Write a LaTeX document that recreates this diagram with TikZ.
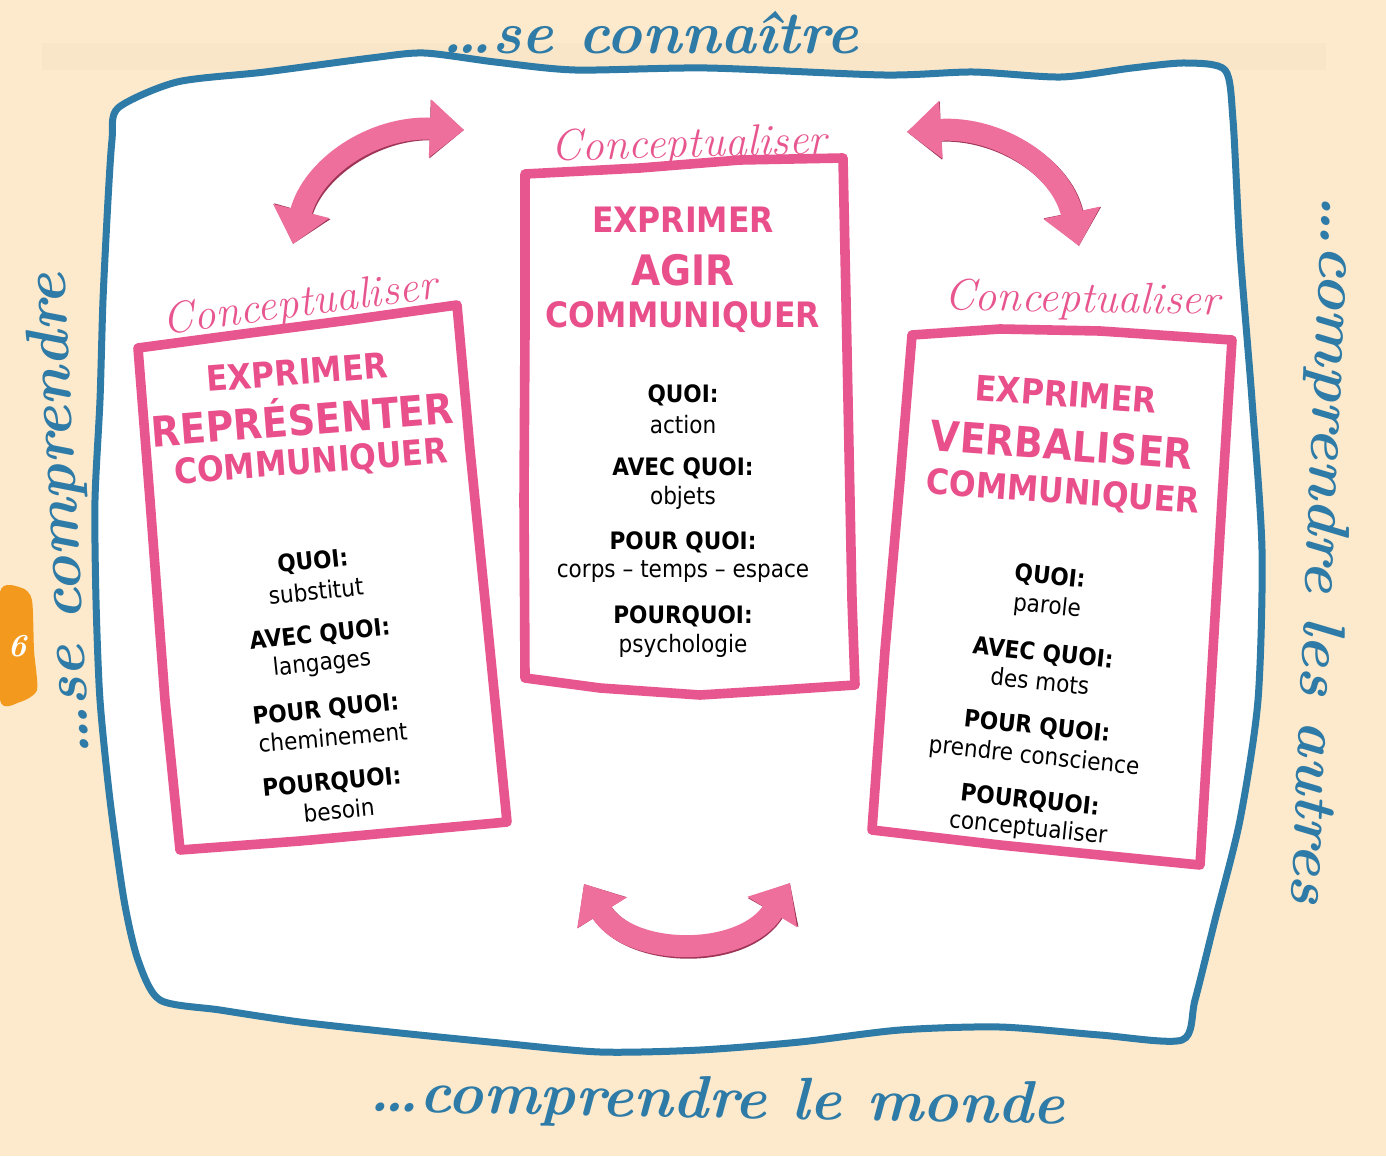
\documentclass[tikz,border=0pt]{standalone}
\usepackage{fontspec}
\usetikzlibrary{arrows.meta}
\newfontfamily\sans{DejaVu Sans}[FakeStretch=0.9]
\definecolor{bg}{HTML}{FDEACC}
\definecolor{band}{HTML}{F9E6C9}
\definecolor{blueline}{HTML}{2F7BA7}
\definecolor{pinkframe}{HTML}{E8568F}
\definecolor{headpink}{HTML}{E9508B}
\definecolor{arrowpink}{HTML}{EE6F9C}
\definecolor{arrowdark}{HTML}{9E3556}
\definecolor{tabcol}{HTML}{F39A1E}
\tikzset{
 boxframe/.style={draw=pinkframe, line width=4.8pt, line join=round, fill=white},
 hdr/.style={text=headpink, font=\sans\bfseries\fontsize{17.5}{20}\selectfont, inner sep=0pt},
 bighdr/.style={text=headpink, font=\sans\bfseries\fontsize{21}{24}\selectfont, inner sep=0pt},
 lab/.style={font=\sans\bfseries\fontsize{12}{14}\selectfont, inner sep=0pt},
 val/.style={font=\sans\fontsize{12}{14}\selectfont, inner sep=0pt},
 concept/.style={text=pinkframe, font=\itshape\fontsize{22}{26}\selectfont, inner sep=0pt},
 outer/.style={text=blueline, font=\bfseries\itshape\fontsize{30}{34}\selectfont, inner sep=0pt},
 curvarrow/.style={arrowpink, line width=11pt, {Triangle[width=28pt,length=17pt]}-{Triangle[width=28pt,length=17pt]}},
 curvshadow/.style={arrowdark, line width=11pt, {Triangle[width=28pt,length=17pt]}-{Triangle[width=28pt,length=17pt]}, xshift=1pt, yshift=-1pt},
}
\begin{document}
\begin{tikzpicture}[x=0.5pt,y=-0.5pt]
\useasboundingbox (0,0) rectangle (1386,1156);
\fill[bg] (0,0) rectangle (1386,1156);
\fill[band] (42,43) rectangle (1326,70);
% orange tab
\fill[tabcol] plot[smooth cycle, tension=0.4] coordinates {(0,592) (22,588) (32,600) (34,650) (37,690) (20,702) (0,700)};
\node[text=white, font=\bfseries\itshape\fontsize{16}{18}\selectfont, inner sep=0pt] (pagenum) at (17,646) {6};
% paper with blue border
\draw[blueline, line width=3.5pt, fill=white, line join=round]
 plot[smooth cycle, tension=0.45] coordinates {
 (118,108) (177,82) (265,72) (371,58) (424,53) (495,62) (575,70) (707,68) (884,75) (973,72) (1061,77) (1132,68) (1185,63) (1225,70)
 (1233,120) (1240,250) (1252,400) (1262,550) (1258,700) (1240,820) (1215,920) (1195,1000) (1182,1040)
 (1100,1035) (1000,1027) (900,1030) (800,1042) (700,1050) (600,1052) (500,1043) (400,1033) (300,1022) (220,1010) (160,1000)
 (138,960) (124,900) (110,800) (100,700) (96,600) (95,500) (100,400) (103,300) (108,200) (112,140)};
% outer handwritten texts
\node[outer] (top) at (650,33) {…se connaître};
\node[outer, rotate=-92.5] (right) at (1322,550) {…comprendre les autres};
\node[outer, rotate=-1] (bottom) at (717,1103) {…comprendre le monde};
\node[outer, rotate=93] (left) at (62,515) {…se comprendre};
% frames
\draw[boxframe] (525,174) -- (640,168) -- (740,160) -- (843,158) -- (846,300) -- (849,450) -- (852,600) -- (855,685)
 -- (780,690) -- (700,695) -- (600,688) -- (525,678) -- (524,500) -- (525,330) -- cycle;
\draw[boxframe] (138,348) -- (250,333) -- (350,320) -- (457,305) -- (470,450) -- (490,650) -- (507,822)
 -- (420,830) -- (300,841) -- (180,850) -- (165,700) -- (150,500) -- cycle;
\draw[boxframe] (912,335) -- (1000,329) -- (1100,331) -- (1232,340) -- (1222,500) -- (1210,700) -- (1200,865)
 -- (1100,855) -- (1000,845) -- (872,830) -- (885,650) -- (900,480) -- cycle;
% Conceptualiser labels
\node[concept, rotate=1.5] (conC) at (689,146) {Conceptualiser};
\node[concept, rotate=7.5] (conL) at (300,305) {Conceptualiser};
\node[concept, rotate=-1] (conR) at (1082,301) {Conceptualiser};
% centre box
\node[hdr] (c1) at (683,220) {EXPRIMER};
\node[bighdr] (c2) at (683,270) {AGIR};
\node[hdr] (c3) at (683,317) {COMMUNIQUER};
\node[lab] (c4) at (683,395) {QUOI:};
\node[val] (c5) at (683,425) {action};
\node[lab] (c6) at (683,468) {AVEC QUOI:};
\node[val] (c7) at (683,498) {objets};
\node[lab] (c8) at (683,542) {POUR QUOI:};
\node[val] (c9) at (683,572) {corps – temps – espace};
\node[lab] (c10) at (683,616) {POURQUOI:};
\node[val] (c11) at (683,646) {psychologie};
% left box
\node[hdr, rotate=4.5] (l1) at (297,372) {EXPRIMER};
\node[bighdr, rotate=4.5] (l2) at (302,416) {REPRÉSENTER};
\node[hdr, rotate=4.5] (l3) at (311,463) {COMMUNIQUER};
\node[lab, rotate=6] (l4) at (313,562) {QUOI:};
\node[val, rotate=6] (l5) at (316,591) {substitut};
\node[lab, rotate=6] (l6) at (320,635) {AVEC QUOI:};
\node[val, rotate=6] (l7) at (322,664) {langages};
\node[lab, rotate=6] (l8) at (326,710) {POUR QUOI:};
\node[val, rotate=5] (l9) at (333,737) {cheminement};
\node[lab, rotate=5.5] (l10) at (332,783) {POURQUOI:};
\node[val, rotate=5.5] (l11) at (339,810) {besoin};
% right box
\node[hdr, rotate=-4.2] (r1) at (1066,394) {EXPRIMER};
\node[bighdr, rotate=-4.2] (r2) at (1062,445) {VERBALISER};
\node[hdr, rotate=-4.2] (r3) at (1063,493) {COMMUNIQUER};
\node[lab, rotate=-6] (r4) at (1050,577) {QUOI:};
\node[val, rotate=-6] (r5) at (1047,607) {parole};
\node[lab, rotate=-6] (r6) at (1043,654) {AVEC QUOI:};
\node[val, rotate=-6] (r7) at (1040,681) {des mots};
\node[lab, rotate=-6] (r8) at (1037,727) {POUR QUOI:};
\node[val, rotate=-6] (r9) at (1034,757) {prendre conscience};
\node[lab, rotate=-6] (r10) at (1030,801) {POURQUOI:};
\node[val, rotate=-6] (r11) at (1028,829) {conceptualiser};
% arrows
\coordinate (a1s) at (293,244);
\coordinate (a1e) at (464,130);
\coordinate (a2s) at (1079,246);
\coordinate (a2e) at (907,132);
\coordinate (a3s) at (584,884);
\coordinate (a3e) at (790,883);
\foreach \st in {curvshadow,curvarrow}{
 \draw[\st] (a1s) .. controls (312,168) and (372,126) .. (a1e);
 \draw[\st] (a2s) .. controls (1062,168) and (1000,126) .. (a2e);
 \draw[\st] (a3s) .. controls (630,958) and (744,958) .. (a3e);
}
\end{tikzpicture}
\end{document}
